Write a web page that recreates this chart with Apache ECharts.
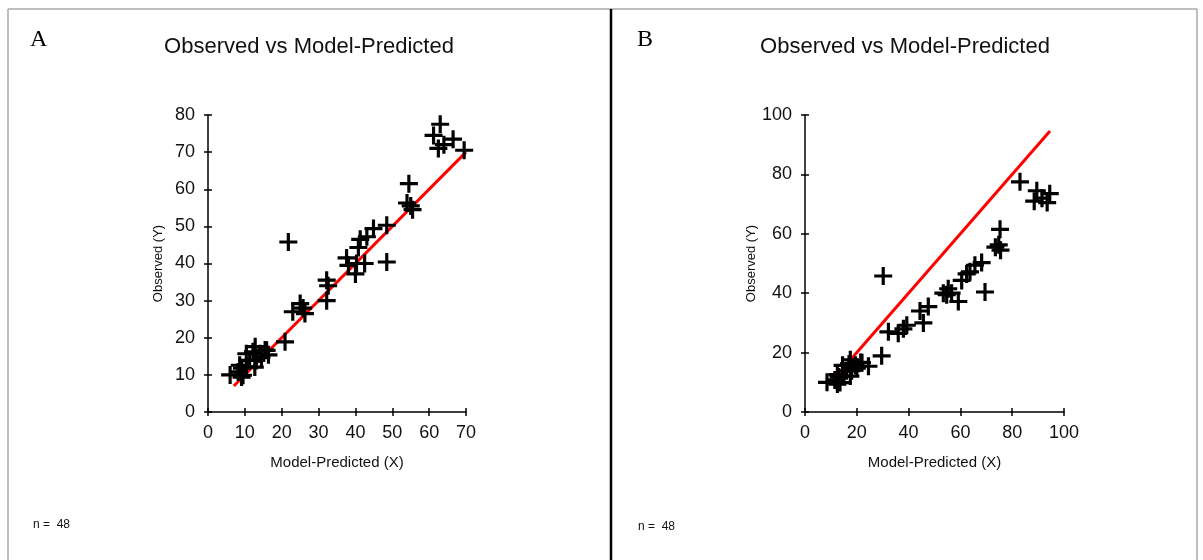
<!DOCTYPE html>
<html>
<head>
<meta charset="utf-8">
<script src="https://cdn.jsdelivr.net/npm/echarts/dist/echarts.min.js"></script>
<style>
  html, body { margin: 0; padding: 0; background: #fff; }
  #chart { width: 1203px; height: 560px; }
</style>
</head>
<body>
<div id="chart"></div>
<script>
// Observed values (shared by both panels), sorted high to low
const observed = [77.5, 74.5, 73.5, 72.0, 71.0, 70.5, 61.5, 56.3, 55.5, 54.5,
  50.3, 49.4, 47.2, 46.5, 45.8, 44.3, 41.5, 40.4, 40.0, 40.0, 39.5, 37.2,
  35.5, 34.0, 30.0, 29.2, 28.0, 27.0, 26.5, 18.9,
  17.6, 16.7, 16.6, 16.2, 15.7, 15.7, 15.4, 14.8, 13.9, 13.9, 12.6, 12.1,
  12.1, 11.8, 10.8, 10.0, 9.9, 9.4];

// Model-predicted values, panel A
const predictedA = [63.0, 61.2, 66.5, 64.0, 62.5, 69.5, 54.5, 54.0, 55.0, 55.5,
  48.5, 44.9, 43.1, 41.3, 21.8, 40.8, 37.6, 48.5, 40.3, 42.5, 38.1, 40.0,
  32.2, 32.6, 32.2, 25.0, 25.8, 23.0, 26.3, 20.9,
  12.8, 15.5, 15.9, 12.2, 10.4, 14.1, 16.4, 14.5, 11.3, 13.1, 8.6, 10.4,
  12.7, 9.2, 8.2, 6.0, 9.5, 9.1];

// Model-predicted values, panel B
const predictedB = [83.0, 89.5, 94.5, 91.5, 88.5, 93.5, 75.3, 74.8, 73.5, 75.5,
  68.2, 65.6, 63.7, 62.4, 30.2, 60.5, 55.3, 69.5, 53.4, 56.6, 54.7, 59.2,
  47.6, 44.4, 45.7, 39.3, 38.0, 32.2, 36.0, 29.6,
  17.5, 21.5, 22.0, 17.0, 14.5, 19.5, 24.5, 20.0, 16.0, 18.0, 12.5, 15.0,
  17.5, 13.0, 11.5, 8.5, 13.5, 12.5];

// Extent of the y = x reference line in each panel
const identityA = [7, 70];
const identityB = [11.5, 94.6];

// Axis ranges and tick steps
const xRangeA = [0, 70, 10];
const yRangeA = [0, 80, 10];
const xRangeB = [0, 100, 20];
const yRangeB = [0, 100, 20];

const panelLetters = ['A', 'B'];
const chartTitle = 'Observed vs Model-Predicted';
const xName = 'Model-Predicted (X)';
const yName = 'Observed (Y)';
const countLabel = 'n =  48';

const FONT = 'Liberation Sans, Arial, sans-serif';
const PLUS = 'path://M7,0h3v7h7v3h-7v7h-3v-7h-7v-3h7z';

function mainAxis(dim, grid, range, name) {
  return {
    type: 'value', gridIndex: grid,
    min: range[0], max: range[1], interval: range[2],
    position: dim === 'x' ? 'bottom' : 'left',
    axisLine: { show: true, onZero: false, lineStyle: { color: '#000', width: 1.5 } },
    axisTick: { show: true, length: 4, lineStyle: { color: '#000', width: 1.5 } },
    axisLabel: { fontSize: 18, color: '#111', fontFamily: FONT, margin: dim === 'x' ? 12 : 13 },
    splitLine: { show: false },
    name: name, nameLocation: 'middle',
    nameGap: dim === 'x' ? 43 : 43,
    nameTextStyle: { fontSize: dim === 'x' ? 15 : 13, color: '#111', fontFamily: FONT }
  };
}
function tickAxis(dim, grid, range) {
  // Duplicate axis that only draws the inward half of each tick
  return {
    type: 'value', gridIndex: grid,
    min: range[0], max: range[1], interval: range[2],
    position: dim === 'x' ? 'bottom' : 'left',
    axisLine: { show: false },
    axisTick: { show: true, inside: true, length: 4, lineStyle: { color: '#000', width: 1.5 } },
    axisLabel: { show: false },
    splitLine: { show: false }
  };
}

function toPairs(xs, ys) { return xs.map((x, i) => [x, ys[i]]); }

const markerStyle = { color: '#000', opacity: 1 };

const chart = echarts.init(document.getElementById('chart'));
chart.setOption({
  animation: false,
  backgroundColor: '#fff',
  grid: [
    { left: 208, top: 115, width: 258, height: 297 },
    { left: 805, top: 115, width: 259, height: 297 }
  ],
  xAxis: [
    mainAxis('x', 0, xRangeA, xName), tickAxis('x', 0, xRangeA),
    mainAxis('x', 1, xRangeB, xName), tickAxis('x', 1, xRangeB)
  ],
  yAxis: [
    mainAxis('y', 0, yRangeA, yName), tickAxis('y', 0, yRangeA),
    mainAxis('y', 1, yRangeB, yName), tickAxis('y', 1, yRangeB)
  ],
  series: [
    { type: 'line', xAxisIndex: 0, yAxisIndex: 0, z: 2, showSymbol: false, silent: true,
      data: identityA.map(v => [v, v]), lineStyle: { color: '#ff0000', width: 3 } },
    { type: 'scatter', xAxisIndex: 0, yAxisIndex: 0, z: 3, symbol: PLUS, symbolSize: 18,
      itemStyle: markerStyle, data: toPairs(predictedA, observed) },
    { type: 'line', xAxisIndex: 2, yAxisIndex: 2, z: 2, showSymbol: false, silent: true,
      data: identityB.map(v => [v, v]), lineStyle: { color: '#ff0000', width: 3 } },
    { type: 'scatter', xAxisIndex: 2, yAxisIndex: 2, z: 3, symbol: PLUS, symbolSize: 18,
      itemStyle: markerStyle, data: toPairs(predictedB, observed) }
  ],
  graphic: [
    // panel frames
    { type: 'line', shape: { x1: 8, y1: 9, x2: 1197, y2: 9 }, style: { stroke: '#a8a8a8', lineWidth: 1.5 } },
    { type: 'line', shape: { x1: 8, y1: 9, x2: 8, y2: 560 }, style: { stroke: '#a8a8a8', lineWidth: 1.5 } },
    { type: 'line', shape: { x1: 1197, y1: 9, x2: 1197, y2: 560 }, style: { stroke: '#a8a8a8', lineWidth: 1.5 } },
    { type: 'line', shape: { x1: 611, y1: 9, x2: 611, y2: 560 }, style: { stroke: '#000', lineWidth: 2.5 } },
    // panel letters
    { type: 'text', x: 30, y: 40, style: { text: panelLetters[0], font: '24px "Liberation Serif", serif', fill: '#000', verticalAlign: 'middle' } },
    { type: 'text', x: 637, y: 40, style: { text: panelLetters[1], font: '24px "Liberation Serif", serif', fill: '#000', verticalAlign: 'middle' } },
    // titles
    { type: 'text', x: 309, y: 47, style: { text: chartTitle, font: '22px ' + FONT, fill: '#111', align: 'center', verticalAlign: 'middle' } },
    { type: 'text', x: 905, y: 47, style: { text: chartTitle, font: '22px ' + FONT, fill: '#111', align: 'center', verticalAlign: 'middle' } },
    // sample size notes
    { type: 'text', x: 33, y: 525, style: { text: countLabel, font: '12px ' + FONT, fill: '#111', verticalAlign: 'middle' } },
    { type: 'text', x: 638, y: 527, style: { text: countLabel, font: '12px ' + FONT, fill: '#111', verticalAlign: 'middle' } }
  ]
});
</script>
</body>
</html>
